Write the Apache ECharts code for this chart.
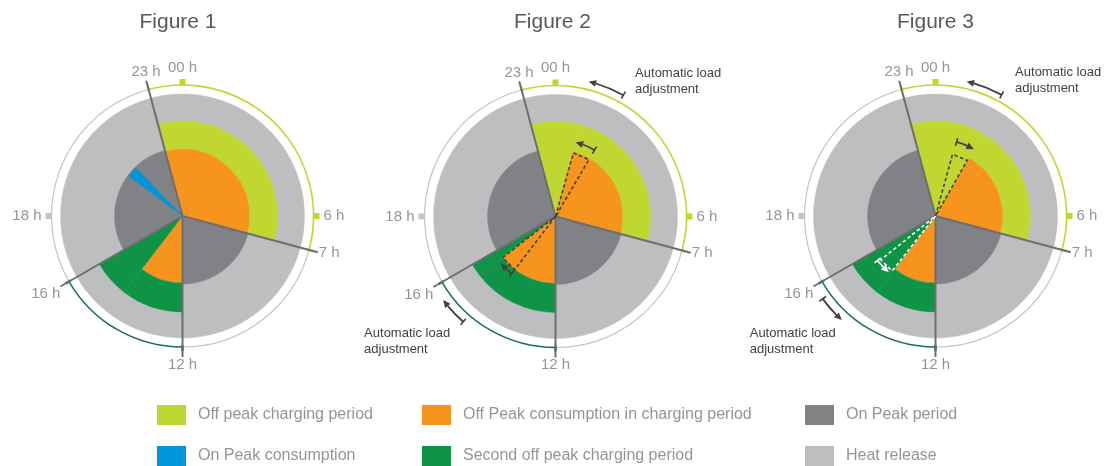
<!DOCTYPE html>
<html><head><meta charset="utf-8">
<script src="https://cdn.jsdelivr.net/npm/echarts@6.0.0/dist/echarts.min.js"></script>
<style>html,body{margin:0;padding:0;background:#fff}#c{width:1106px;height:466px}</style>
</head><body><div id="c"></div>
<script>
// ---------------- DATA ----------------
// hour labels on the 24 h clock
const hourTicks = [0, 6, 7, 12, 16, 18, 23];
const hourTickLabels = ['00 h', '6 h', '7 h', '12 h', '16 h', '18 h', '23 h'];
const figureTitles = ['Figure 1', 'Figure 2', 'Figure 3'];

// sectors: [startHour, endHour, innerRadius, outerRadius]  (radius units, clock edge = 131)
const fig1Charging    = [[23, 7, 67, 95]];
const fig1Consumption = [[23, 7, 0, 67], [12, 14.5, 0, 67]];
const fig1OnPeak      = [[7, 12, 0, 68], [16, 23, 0, 68]];
const fig1OnPeakUse   = [[20.45, 21.05, 0, 67]];
const fig1Second      = [[12, 14.5, 67, 96], [14.5, 16, 0, 96]];
const fig1Heat        = [[23, 7, 95, 122], [7, 12, 68, 122], [12, 16, 96, 122], [16, 23, 68, 122]];

const fig2Charging    = [[23, 1, 0, 95], [1, 7, 67, 95]];
const fig2Consumption = [[1, 7, 0, 67], [12, 15.5, 0, 67]];
const fig2OnPeak      = [[7, 12, 0, 68], [16, 23, 0, 68]];
const fig2OnPeakUse   = [];
const fig2Second      = [[12, 15.5, 67, 96], [15.5, 16, 0, 96]];
const fig2Heat        = [[23, 7, 95, 122], [7, 12, 68, 122], [12, 16, 96, 122], [16, 23, 68, 122]];

const fig3Charging    = [[23, 2, 0, 95], [2, 7, 67, 95]];
const fig3Consumption = [[2, 7, 0, 67], [12, 14.5, 0, 67]];
const fig3OnPeak      = [[7, 12, 0, 68], [16, 23, 0, 68]];
const fig3OnPeakUse   = [];
const fig3Second      = [[12, 14.5, 67, 96], [14.5, 16, 0, 96]];
const fig3Heat        = [[23, 7, 95, 122], [7, 12, 68, 122], [12, 16, 96, 122], [16, 23, 68, 122]];

// period boundary lines: [hour, length]
const dividerLines = [[23, 140], [7, 140], [12, 141], [16, 141]];
// outer clock ring arcs: [startHour, endHour, radius]
const ringCharging = [[23, 7, 131]];
const ringHeat     = [[7, 12, 131], [16, 23, 131]];
const ringSecond   = [[12, 16, 131]];
// ring markers: [hour, radius]
const markCharging = [[0, 134], [6, 134]];
const markHeat     = [[18, 134]];
const stubCharging = [[23, 131], [7, 131]];
const stubSecond   = [[12, 131], [16, 131]];

// shifted load wedges: [startHour, endHour, radius]
const fig2DashedDark  = [[1.05, 2.03, 66], [14.5, 15.47, 67]];
const fig3DashedDark  = [[1.03, 1.98, 64]];
const fig3DashedWhite = [[14.55, 15.42, 70]];
// arrows: [fromHour, toHour, radius]
const fig2Arrows      = [[1.95, 0.92, 139], [2.03, 1.01, 77], [14.75, 15.56, 140], [14.5, 15.3, 72]];
const fig3Arrows      = [[1.91, 0.87, 138], [1.06, 1.99, 77], [15.58, 14.8, 140]];
const fig3ArrowsWhite = [[15.5, 14.65, 73]];
// annotation anchors: [hour, radius]
const fig2Notes = [[1.85, 171], [16.03, 220]];
const fig3Notes = [[1.85, 171], [15.97, 215.5]];
const noteText = 'Automatic load\nadjustment';

const categoryNames = {
  charging: 'Off peak charging period',
  consumption: 'Off Peak consumption in charging period',
  onPeak: 'On Peak period',
  onPeakUse: 'On Peak consumption',
  second: 'Second off peak charging period',
  heat: 'Heat release'
};

// ---------------- STYLE ----------------
const FONT = '"Liberation Sans", Arial, Helvetica, sans-serif';
const COL = {
  charging: '#bfd730', consumption: '#f7941d', onPeak: '#808285',
  onPeakUse: '#0095da', second: '#0f9447', heat: '#bcbec0'
};
const RING_GREEN = '#17743c';
const RING_GRAY = '#c3c4c6';
const LINE_GRAY = '#6d6e71';
const ARROW = '#414042';
const TEXT_GRAY = '#939598';

const figures = [
  { center: [182.5, 216], titleX: 178, sec: {heat: fig1Heat, onPeak: fig1OnPeak, charging: fig1Charging, consumption: fig1Consumption, second: fig1Second, onPeakUse: fig1OnPeakUse},
    dashed: [], dashedWhite: [], arrows: [], arrowsWhite: [], notes: [] },
  { center: [555.5, 216.5], titleX: 552.5, sec: {heat: fig2Heat, onPeak: fig2OnPeak, charging: fig2Charging, consumption: fig2Consumption, second: fig2Second, onPeakUse: fig2OnPeakUse},
    dashed: fig2DashedDark, dashedWhite: [], arrows: fig2Arrows, arrowsWhite: [], notes: fig2Notes },
  { center: [935.5, 216], titleX: 935.5, sec: {heat: fig3Heat, onPeak: fig3OnPeak, charging: fig3Charging, consumption: fig3Consumption, second: fig3Second, onPeakUse: fig3OnPeakUse},
    dashed: fig3DashedDark, dashedWhite: fig3DashedWhite, arrows: fig3Arrows, arrowsWhite: fig3ArrowsWhite, notes: fig3Notes }
];

// ---------------- helpers ----------------
function ang(c, p) { return Math.atan2(p[1] - c[1], p[0] - c[0]); }
function dist(c, p) { return Math.hypot(p[0] - c[0], p[1] - c[1]); }

function sectorRender(color) {
  return function (params, api) {
    const h0 = api.value(0), h1 = api.value(1), ri = api.value(2), ro = api.value(3);
    const c = api.coord([0, 0]);
    const p0 = api.coord([ro, h0]), p1 = api.coord([ro, h1]);
    let a0 = ang(c, p0), a1 = ang(c, p1);
    if (a1 <= a0) a1 += 2 * Math.PI;
    const rIn = ri > 0 ? dist(c, api.coord([ri, h0])) : 0;
    return { type: 'sector',
      shape: { cx: c[0], cy: c[1], r0: rIn, r: dist(c, p0), startAngle: a0, endAngle: a1, clockwise: true },
      style: { fill: color, stroke: color, lineWidth: 0.5 } };
  };
}
function arcRender(color, width) {
  return function (params, api) {
    const h0 = api.value(0), h1 = api.value(1), r = api.value(2);
    const c = api.coord([0, 0]);
    const p0 = api.coord([r, h0]), p1 = api.coord([r, h1]);
    let a0 = ang(c, p0), a1 = ang(c, p1);
    if (a1 <= a0) a1 += 2 * Math.PI;
    return { type: 'arc',
      shape: { cx: c[0], cy: c[1], r: dist(c, p0), startAngle: a0, endAngle: a1, clockwise: true },
      style: { fill: 'none', stroke: color, lineWidth: width } };
  };
}
function markRender(color) {
  return function (params, api) {
    const p = api.coord([api.value(1), api.value(0)]);
    return { type: 'rect', shape: { x: p[0] - 3, y: p[1] - 3, width: 6, height: 6 }, style: { fill: color } };
  };
}
function stubRender(color) {
  return function (params, api) {
    const h = api.value(0), r = api.value(1);
    const a = api.coord([r - 2, h]), b = api.coord([r + 4, h]);
    return { type: 'line', shape: { x1: a[0], y1: a[1], x2: b[0], y2: b[1] }, style: { stroke: color, lineWidth: 2.5 } };
  };
}
function dividerRender(params, api) {
  const c = api.coord([0, 0]);
  const p = api.coord([api.value(1), api.value(0)]);
  return { type: 'line', shape: { x1: c[0], y1: c[1], x2: p[0], y2: p[1] }, style: { stroke: LINE_GRAY, lineWidth: 2 } };
}
function dashedRender(color) {
  return function (params, api) {
    const h0 = api.value(0), h1 = api.value(1), r = api.value(2);
    const c = api.coord([0, 0]);
    const p0 = api.coord([r, h0]), p1 = api.coord([r, h1]);
    return { type: 'polygon', shape: { points: [c, p0, p1] },
      style: { fill: 'none', stroke: color, lineWidth: 1.6, lineDash: [3.5, 2.5] } };
  };
}
function arrowRender(color) {
  return function (params, api) {
    const h0 = api.value(0), h1 = api.value(1), r = api.value(2);
    const c = api.coord([0, 0]);
    const p0 = api.coord([r, h0]), p1 = api.coord([r, h1]);
    const R = dist(c, p0);
    const a0 = ang(c, p0);
    let d = ang(c, p1) - a0;
    while (d > Math.PI) d -= 2 * Math.PI;
    while (d < -Math.PI) d += 2 * Math.PI;
    const dir = d > 0 ? 1 : -1;
    const a1 = a0 + d;
    const head = 7.5, hw = 3.5;
    const aBase = a1 - dir * head / R;
    const s = Math.min(a0, aBase), e = Math.max(a0, aBase);
    const tip = [c[0] + R * Math.cos(a1), c[1] + R * Math.sin(a1)];
    const bx = c[0] + R * Math.cos(aBase), by = c[1] + R * Math.sin(aBase);
    const ux = Math.cos(aBase), uy = Math.sin(aBase);
    const vx = Math.cos(a0), vy = Math.sin(a0);
    return { type: 'group', children: [
      { type: 'arc', shape: { cx: c[0], cy: c[1], r: R, startAngle: s, endAngle: e, clockwise: true },
        style: { fill: 'none', stroke: color, lineWidth: 1.8 } },
      { type: 'line', shape: { x1: p0[0] - vx * 4, y1: p0[1] - vy * 4, x2: p0[0] + vx * 4, y2: p0[1] + vy * 4 },
        style: { stroke: color, lineWidth: 1.6 } },
      { type: 'polygon', shape: { points: [tip, [bx + ux * hw, by + uy * hw], [bx - ux * hw, by - uy * hw]] },
        style: { fill: color } }
    ] };
  };
}
function noteRender(params, api) {
  const p = api.coord([api.value(1), api.value(0)]);
  return { type: 'text', x: p[0], y: p[1],
    style: { text: noteText, fill: ARROW, fontSize: 13, fontFamily: FONT, align: 'left', verticalAlign: 'top', lineHeight: 16 } };
}

// ---------------- build option ----------------
const hourLabelMap = {};
hourTicks.forEach((h, i) => { hourLabelMap[h] = hourTickLabels[i]; });

const series = [];
const order = ['heat', 'onPeak', 'charging', 'consumption', 'second', 'onPeakUse'];
figures.forEach((f, fi) => {
  const base = { type: 'custom', coordinateSystem: 'polar', polarIndex: fi, silent: true, animation: false };
  order.forEach(k => {
    series.push(Object.assign({}, base, {
      name: categoryNames[k], itemStyle: { color: COL[k] },
      renderItem: sectorRender(COL[k]), data: f.sec[k]
    }));
  });
  series.push(Object.assign({}, base, { name: 'ring1', renderItem: arcRender(COL.charging, 1.6), data: ringCharging }));
  series.push(Object.assign({}, base, { name: 'ring2', renderItem: arcRender(RING_GRAY, 1.2), data: ringHeat }));
  series.push(Object.assign({}, base, { name: 'ring3', renderItem: arcRender(RING_GREEN, 1.5), data: ringSecond }));
  series.push(Object.assign({}, base, { name: 'mark1', renderItem: markRender(COL.charging), data: markCharging }));
  series.push(Object.assign({}, base, { name: 'mark2', renderItem: markRender(RING_GRAY), data: markHeat }));
  series.push(Object.assign({}, base, { name: 'stub1', renderItem: stubRender(COL.charging), data: stubCharging }));
  series.push(Object.assign({}, base, { name: 'stub2', renderItem: stubRender(RING_GREEN), data: stubSecond }));
  series.push(Object.assign({}, base, { name: 'dividers', renderItem: dividerRender, data: dividerLines }));
  series.push(Object.assign({}, base, { name: 'dashed', renderItem: dashedRender(ARROW), data: f.dashed }));
  series.push(Object.assign({}, base, { name: 'dashedW', renderItem: dashedRender('#ffffff'), data: f.dashedWhite }));
  series.push(Object.assign({}, base, { name: 'arrows', renderItem: arrowRender(ARROW), data: f.arrows }));
  series.push(Object.assign({}, base, { name: 'arrowsW', renderItem: arrowRender('#ffffff'), data: f.arrowsWhite }));
  series.push(Object.assign({}, base, { name: 'notes', renderItem: noteRender, data: f.notes }));
});

const legendBase = {
  orient: 'vertical', top: 405, padding: 0, itemGap: 21, itemWidth: 29, itemHeight: 20,
  icon: 'rect', selectedMode: false,
  textStyle: { fontSize: 16, color: TEXT_GRAY, fontFamily: FONT, padding: [0, 0, 0, 7] }
};

const option = {
  backgroundColor: '#ffffff',
  animation: false,
  title: figures.map((f, i) => ({
    text: figureTitles[i], left: f.titleX, top: 12, padding: 0, textAlign: 'center',
    textStyle: { fontSize: 21, fontWeight: 'normal', color: '#58595b', fontFamily: FONT }
  })),
  legend: [
    Object.assign({}, legendBase, { left: 157, data: [categoryNames.charging, categoryNames.onPeakUse] }),
    Object.assign({}, legendBase, { left: 422, data: [categoryNames.consumption, categoryNames.second] }),
    Object.assign({}, legendBase, { left: 805, data: [categoryNames.onPeak, categoryNames.heat] })
  ],
  polar: figures.map(f => ({ center: f.center, radius: 131 })),
  angleAxis: figures.map((f, i) => ({
    polarIndex: i, type: 'value', min: 0, max: 24, interval: 1, startAngle: 90, clockwise: true,
    axisLine: { show: false }, axisTick: { show: false }, splitLine: { show: false },
    axisLabel: { margin: 10, fontSize: 15, color: TEXT_GRAY, fontFamily: FONT,
      formatter: v => (v < 24 && hourLabelMap[v]) ? hourLabelMap[v] : '' }
  })),
  radiusAxis: figures.map((f, i) => ({
    polarIndex: i, type: 'value', min: 0, max: 131,
    axisLine: { show: false }, axisTick: { show: false }, axisLabel: { show: false }, splitLine: { show: false }
  })),
  series: series
};

const chart = echarts.init(document.getElementById('c'), null, { renderer: 'canvas' });
chart.setOption(option);
</script></body></html>
